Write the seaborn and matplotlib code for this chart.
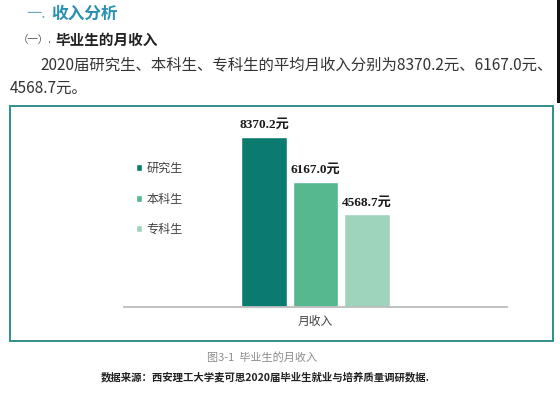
import matplotlib
matplotlib.use("Agg")
import matplotlib.pyplot as plt
from matplotlib.patches import Rectangle
import seaborn as sns
import pandas as pd

# ---- data ----
category = ["月收入"]
levels = ["研究生", "本科生", "专科生"]
values = [8370.2, 6167.0, 4568.7]
value_labels = ["8370.2元", "6167.0元", "4568.7元"]
colors = ["#0b7a6f", "#55b88f", "#9dd4bb"]

title_prefix = "一."
title_main = "收入分析"
sub_prefix = "（一）."
sub_main = "毕业生的月收入"
para_line1 = "2020届研究生、本科生、专科生的平均月收入分别为8370.2元、6167.0元、"
para_line2 = "4568.7元。"
fig_caption = "图3-1  毕业生的月收入"
source_note = "数据来源：西安理工大学麦可思2020届毕业生就业与培养质量调研数据."

df = pd.DataFrame({"cat": category * len(levels), "level": levels, "val": values})

sns.set_style("white")
plt.rcParams["font.family"] = ["Noto Sans CJK SC", "DejaVu Sans"]

W, H = 560, 393
fig = plt.figure(figsize=(W / 100, H / 100), dpi=100)
fig.patch.set_facecolor("white")


def fx(px):
    return px / W


def fy(py):
    return 1 - py / H


# chart axes (pixel geometry)
ax_left, ax_right, ax_bottom, ax_top = 124, 507, 307, 124
ax = fig.add_axes([fx(ax_left), fy(ax_bottom), fx(ax_right - ax_left), (ax_bottom - ax_top) / H])

sns.barplot(data=df, x="cat", y="val", hue="level", hue_order=levels,
            palette=colors, width=0.4, gap=0.1, saturation=1, ax=ax, errorbar=None)

ax.set_xlim(-0.5, 0.5)
ax.set_ylim(0, 9000)
ax.set_xlabel("")
ax.set_ylabel("")
ax.set_yticks([])
for s in ["top", "right", "left"]:
    ax.spines[s].set_visible(False)
ax.spines["bottom"].set_color("#bdbdbd")
ax.spines["bottom"].set_linewidth(1.3)
ax.tick_params(axis="x", which="major", length=0, pad=6, labelsize=8.5, labelcolor="#404040")
ax.set_xticks([-0.5, 0.5], minor=True)
ax.tick_params(axis="x", which="minor", direction="in", length=4, color="#bdbdbd", width=1)
ax.patch.set_alpha(0)

for cont, lab in zip(ax.containers, value_labels):
    ax.bar_label(cont, labels=[lab], padding=4, fontsize=9.5, fontweight="bold",
                 color="#1a1a1a", family=["Liberation Serif", "Noto Sans CJK SC"])

sns.move_legend(ax, loc="center left", bbox_to_anchor=(fx(136), fy(199)),
                bbox_transform=fig.transFigure, frameon=False, title=None,
                handlelength=0.5, handleheight=0.5, handletextpad=0.35,
                labelspacing=1.45, fontsize=8.7, borderpad=0, borderaxespad=0)
for t in ax.get_legend().get_texts():
    t.set_color("#404040")

# frame around chart
fig.patches.append(Rectangle((fx(10), fy(341)), fx(553 - 10), (341 - 106) / H,
                             transform=fig.transFigure, fill=False,
                             edgecolor="#2f8f8a", linewidth=1.4))
# dark edge at right top
fig.patches.append(Rectangle((fx(557), fy(103)), fx(3), 103 / H,
                             transform=fig.transFigure, facecolor="#111111",
                             edgecolor="none"))

# document texts
fig.text(fx(26), fy(14), title_prefix, fontsize=11, color="#6fa9bd", va="center", ha="left")
fig.text(fx(51), fy(14), title_main, fontsize=12, fontweight="bold", color="#2a8fb3",
         va="center", ha="left")
fig.text(fx(52), fy(40), sub_prefix, fontsize=7.5, color="#555555", va="center", ha="right")
fig.text(fx(55), fy(40), sub_main, fontsize=10.5, fontweight="bold", color="#222222",
         va="center", ha="left")
fig.text(fx(40), fy(65), para_line1, fontsize=11.1, color="#333333", va="center", ha="left")
fig.text(fx(10), fy(88), para_line2, fontsize=11.1, color="#333333", va="center", ha="left")
fig.text(fx(262), fy(357), fig_caption, fontsize=8, color="#8c8c8c", va="center", ha="center")
fig.text(fx(265), fy(377), source_note, fontsize=7.5, fontweight="bold", color="#222222",
         va="center", ha="center")

fig.savefig("out.png", dpi=100, facecolor="white")
